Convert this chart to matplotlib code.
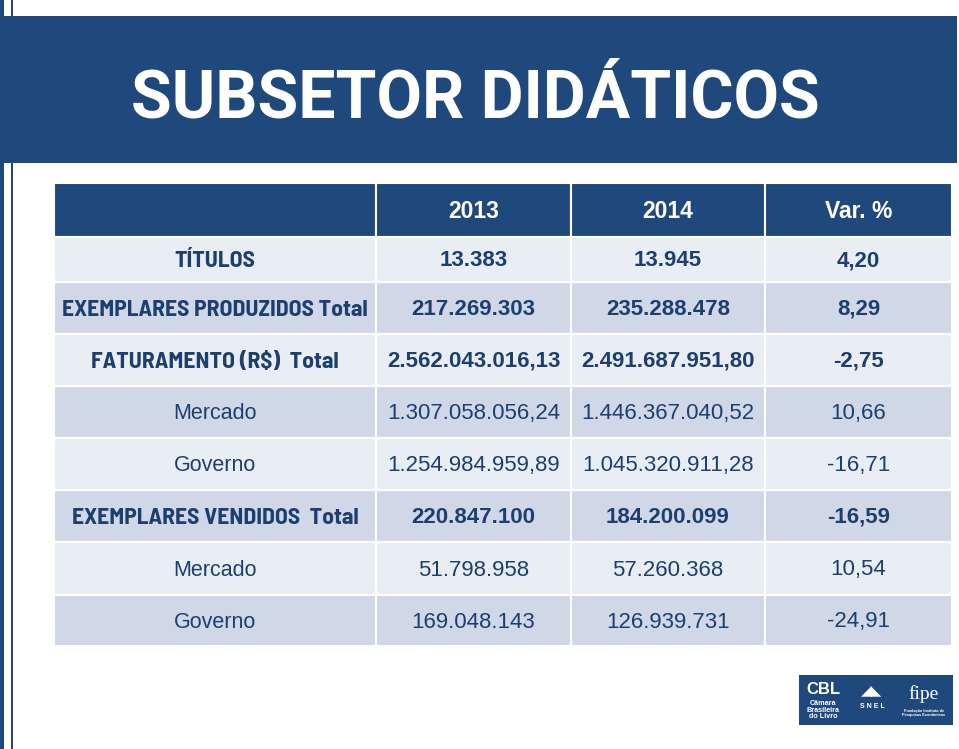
import matplotlib
matplotlib.use("Agg")
import matplotlib.pyplot as plt
from matplotlib.patches import Rectangle

# table data
col_headers = ["", "2013", "2014", "Var. %"]
row_labels = [
    "TÍTULOS",
    "EXEMPLARES PRODUZIDOS Total",
    "FATURAMENTO (R$)  Total",
    "Mercado",
    "Governo",
    "EXEMPLARES VENDIDOS  Total",
    "Mercado",
    "Governo",
]
vals_2013 = ["13.383", "217.269.303", "2.562.043.016,13", "1.307.058.056,24",
             "1.254.984.959,89", "220.847.100", "51.798.958", "169.048.143"]
vals_2014 = ["13.945", "235.288.478", "2.491.687.951,80", "1.446.367.040,52",
             "1.045.320.911,28", "184.200.099", "57.260.368", "126.939.731"]
var_pct = ["4,20", "8,29", "-2,75", "10,66", "-16,71", "-16,59", "10,54", "-24,91"]
row_is_total = [True, True, True, False, False, True, False, False]

title = "SUBSETOR DIDÁTICOS"

# colours / layout (pixel coords)
BLUE = "#1F497D"
TEXT = "#1D3F6E"
LIGHT = "#E9EDF4"
DARK = "#D0D8E8"
col_edges = [54, 376, 571, 765, 952]
row_edges = [183, 237, 282, 334, 386, 438, 490, 542, 595, 646]

cond_font = ["Barlow Semi Condensed", "Liberation Sans Narrow", "DejaVu Sans"]
body_font = ["Liberation Sans", "DejaVu Sans"]

fig = plt.figure(figsize=(9.59, 7.49), dpi=100)
ax = fig.add_axes([0, 0, 1, 1])
ax.set_xlim(0, 959)
ax.set_ylim(749, 0)
ax.axis("off")

# left edge stripes
ax.add_patch(Rectangle((0, 0), 4, 749, color=BLUE, lw=0))
ax.add_patch(Rectangle((11, 0), 2, 749, color=BLUE, lw=0))

# title banner
ax.add_patch(Rectangle((0, 16), 957, 147, color=BLUE, lw=0))
ax.text(475, 100, title, color="white", fontsize=47.5, fontweight="bold",
        family=["Roboto", "Liberation Sans"], ha="center", va="center")

# table cells
columns = [row_labels, vals_2013, vals_2014, var_pct]
for c in range(4):
    x0, x1 = col_edges[c], col_edges[c + 1]
    # header
    y0, y1 = row_edges[0], row_edges[1]
    ax.add_patch(Rectangle((x0, y0), x1 - x0, y1 - y0, facecolor=BLUE,
                           edgecolor="white", lw=1.5))
    ax.text((x0 + x1) / 2, (y0 + y1) / 2 + 1, col_headers[c], color="white",
            fontsize=16.5, fontweight="bold", family=body_font,
            ha="center", va="center")
    for r, txt in enumerate(columns[c]):
        y0, y1 = row_edges[r + 1], row_edges[r + 2]
        ax.add_patch(Rectangle((x0, y0), x1 - x0, y1 - y0,
                               facecolor=LIGHT if r % 2 == 0 else DARK,
                               edgecolor="white", lw=1.5))
        bold = row_is_total[r]
        if c == 0 and bold:
            fam, size = cond_font, 17
        elif c == 0:
            fam, size = body_font, 15.5
        else:
            fam, size = body_font, 16
        ax.text((x0 + x1) / 2, (y0 + y1) / 2 + 1.5, txt, color=TEXT,
                fontsize=size, fontweight="bold" if bold else "normal",
                family=fam, ha="center", va="center")

# publisher logos (bottom right)
ax.add_patch(Rectangle((799, 675), 154, 50, color=BLUE, lw=0))
ax.text(823, 689, "CBL", color="white", fontsize=12, fontweight="bold",
        family=body_font, ha="center", va="center")
ax.text(823, 710, "Câmara\nBrasileira\ndo Livro", color="white", fontsize=5.2,
        fontweight="bold", family=body_font, ha="center", va="center",
        linespacing=0.95)
ax.text(872, 707, "S N E L", color="white", fontsize=5, fontweight="bold",
        family=body_font, ha="center", va="center")
ax.text(872, 690, "\u25E2\u25E3", color="white", fontsize=10,
        family=["DejaVu Sans"], ha="center", va="center")
ax.text(924, 694, "fipe", color="white", fontsize=14,
        family=["Liberation Serif", "DejaVu Serif"], ha="center", va="center")
ax.text(924, 713, "Fundação Instituto de\nPesquisas Econômicas", color="white",
        fontsize=2.8, fontweight="bold", family=body_font, ha="center",
        va="center", linespacing=1.0)

fig.savefig("out.png", dpi=100)
